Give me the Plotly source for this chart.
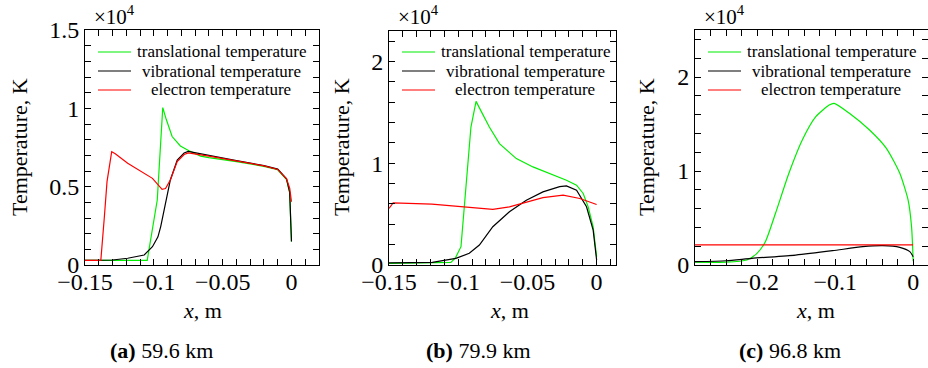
import plotly.graph_objects as go

W, H = 928, 368

# ---- data: temperature profiles along the stagnation line (K) ----
# (a) 59.6 km
xa_tr = [-0.15, -0.1048, -0.0975, -0.0935, -0.091, -0.0867, -0.0807, -0.0735, -0.066,
         -0.06, -0.04, -0.02, -0.01, -0.0036, -0.0013, 0.0]
Ta_tr = [300, 300, 4150, 10050, 9300, 8200, 7600, 7250, 6950,
         6850, 6600, 6300, 6080, 5450, 4600, 1500]
xa_vib = [-0.15, -0.13, -0.119, -0.107, -0.101, -0.097, -0.095, -0.0915, -0.088, -0.083,
          -0.078, -0.075, -0.06, -0.04, -0.02, -0.01, -0.0036, -0.0013, 0.0]
Ta_vib = [300, 320, 430, 640, 1170, 1800, 2450, 3940, 5430, 6700,
          7150, 7250, 6980, 6660, 6340, 6120, 5500, 4650, 1500]
xa_el = [-0.15, -0.1385, -0.136, -0.134, -0.1306, -0.128, -0.119, -0.1096, -0.101, -0.094,
         -0.0915, -0.088, -0.083, -0.078, -0.075, -0.06, -0.04, -0.02, -0.01, -0.0036,
         -0.0013, 0.0]
Ta_el = [300, 300, 3000, 5320, 7230, 7100, 6490, 5960, 5530, 4830,
         4880, 5430, 6600, 7050, 7150, 6950, 6640, 6330, 6100, 5500,
         4900, 4040]

# (b) 79.9 km
xb_tr = [-0.15, -0.12, -0.1053, -0.102, -0.098, -0.0908, -0.0871, -0.083, -0.0775, -0.0702,
         -0.058, -0.046, -0.0339, -0.0218, -0.0145, -0.0097, -0.0061, -0.0025, 0.0]
Tb_tr = [150, 200, 260, 700, 1800, 13560, 16080, 15000, 13560, 11930,
         10460, 9640, 8990, 8330, 7840, 7030, 5720, 3760, 810]
xb_vib = [-0.15, -0.1187, -0.1017, -0.092, -0.0847, -0.075, -0.063, -0.0508, -0.0388,
          -0.0267, -0.0218, -0.0145, -0.0073, -0.0025, 0.0]
Tb_vib = [200, 260, 650, 1150, 1960, 3760, 5230, 6370, 7190,
          7700, 7780, 7350, 5720, 3430, 490]
xb_el = [-0.15, -0.147, -0.119, -0.0944, -0.075, -0.063, -0.0508, -0.0388, -0.0242, -0.0121, 0.0]
Tb_el = [5560, 6110, 5980, 5720, 5460, 5720, 6210, 6630, 6860, 6540, 5950]

# (c) 96.8 km
xc_tr = [-0.28, -0.24, -0.2135, -0.2005, -0.1897, -0.1767, -0.1595, -0.1423, -0.125, -0.1078,
         -0.1013, -0.0819, -0.056, -0.0344, -0.0172, -0.0065, -0.0021, 0.0]
Tc_tr = [300, 300, 530, 1240, 2480, 5500, 9760, 13300, 15780, 17020,
         17200, 16140, 14360, 12410, 9760, 6910, 4070, 400]
xc_vib = [-0.28, -0.24, -0.207, -0.151, -0.1035, -0.0647, -0.0388, -0.0172, -0.0043, 0.0]
Tc_vib = [350, 450, 710, 1060, 1520, 1950, 2060, 1880, 1420, 880]
xc_el = [-0.28, 0.0]
Tc_el = [2150, 2150]

captions = ["59.6 km", "79.9 km", "96.8 km"]
letters = ["a", "b", "c"]
series_names = ["translational temperature", "vibrational temperature", "electron temperature"]
colors = ["#00ee00", "#000000", "#ff0000"]

# ---- panel geometry (pixels) ----
panels = [
    dict(x0=85, x1=319, y0=30, y1=265, xr=[-0.15, 0.02], xstep=0.01,
         xlab=[-0.15, -0.1, -0.05, 0.0], yr=[0, 15000], ystep=1000, ylab=[0, 5000, 10000, 15000],
         data=[(xa_tr, Ta_tr), (xa_vib, Ta_vib), (xa_el, Ta_el)], shape="linear",
         ytitle_x=20, xtitle_x=202, cap_x=161),
    dict(x0=389, x1=616, y0=31, y1=265, xr=[-0.15, 0.014], xstep=0.01,
         xlab=[-0.15, -0.1, -0.05, 0.0], yr=[0, 23000], ystep=2000, ylab=[0, 10000, 20000],
         data=[(xb_tr, Tb_tr), (xb_vib, Tb_vib), (xb_el, Tb_el)], shape="linear",
         ytitle_x=342, xtitle_x=510, cap_x=478),
    dict(x0=695, x1=928, y0=30, y1=265, xr=[-0.28, 0.019], xstep=0.02,
         xlab=[-0.2, -0.1, 0.0], yr=[0, 25000], ystep=2000, ylab=[0, 10000, 20000],
         data=[(xc_tr, Tc_tr), (xc_vib, Tc_vib), (xc_el, Tc_el)], shape="spline",
         ytitle_x=647, xtitle_x=815, cap_x=790),
]

FONT = "Liberation Serif, Times New Roman, serif"


def fx(px):
    return px / W


def fy(py):
    return 1 - py / H


def fmt_x(v):
    s = ("%g" % abs(v))
    return ("\u2212" + s) if v < 0 else s


def fmt_y(v):
    return "%g" % (v / 1e4)


def note(text, px, py, size, **kw):
    d = dict(text=text, x=fx(px), y=fy(py), xref="paper", yref="paper",
             xanchor="center", yanchor="middle", showarrow=False,
             font=dict(family=FONT, size=size, color="black"))
    d.update(kw)
    return d


fig = go.Figure()
annotations = []
shapes = []

for i, p in enumerate(panels):
    k = "" if i == 0 else str(i + 1)
    xa, ya = "x" + k, "y" + k
    for (xs, ts), name, col in zip(p["data"], series_names, colors):
        fig.add_trace(go.Scatter(x=xs, y=ts, mode="lines", name=name, showlegend=False,
                                 line=dict(color=col, width=1.2, shape=p["shape"],
                                           smoothing=0.6),
                                 xaxis=xa, yaxis=ya))

    # tick positions
    n = int(round((p["xr"][1] - p["xr"][0]) / p["xstep"]))
    xt = [round(p["xr"][0] + j * p["xstep"], 4) for j in range(n + 1)]
    xt = [v for v in xt if v <= p["xr"][1] + 1e-9]
    xtt = [fmt_x(v) if any(abs(v - l) < 1e-9 for l in p["xlab"]) else "" for v in xt]
    yt = list(range(p["yr"][0], p["yr"][1] + 1, p["ystep"]))
    ytt = [fmt_y(v) if v in p["ylab"] else "" for v in yt]

    common = dict(showline=True, linecolor="black", linewidth=1, mirror="ticks",
                  ticks="inside", ticklen=6, tickcolor="black", tickwidth=1,
                  showgrid=False, zeroline=False, automargin=False,
                  tickfont=dict(family=FONT, size=24, color="black"))
    fig.layout["xaxis" + k] = dict(domain=[fx(p["x0"]), fx(p["x1"])], range=p["xr"],
                                  anchor=ya, tickmode="array", tickvals=xt, ticktext=xtt,
                                  ticklabelstandoff=-5, **common)
    fig.layout["yaxis" + k] = dict(domain=[fy(p["y1"]), fy(p["y0"])], range=p["yr"],
                                  anchor=xa, tickmode="array", tickvals=yt, ticktext=ytt,
                                  **common)

    # axis titles, scale factor and caption
    annotations.append(note("Temperature, K", p["ytitle_x"], 147, 22, textangle=-90))
    annotations.append(note("\u00d710<sup>4</sup>", p["x0"] + 7, 15, 21, xanchor="left"))
    annotations.append(note("<i>x</i>, m", p["xtitle_x"], 310, 22))
    annotations.append(note("<b>(%s)</b> %s" % (letters[i], captions[i]), p["cap_x"], 350, 22))

    # in-plot key
    for r, (name, col) in enumerate(zip(series_names, colors)):
        yrow = 52 + r * 19
        shapes.append(dict(type="line", xref="paper", yref="paper",
                           x0=fx(p["x0"] + 13), x1=fx(p["x0"] + 46), y0=fy(yrow), y1=fy(yrow),
                           line=dict(color=col, width=1.2)))
        annotations.append(note(name, p["x0"] + 136, yrow, 17))

fig.update_layout(template="none", width=W, height=H,
                  margin=dict(l=0, r=0, t=0, b=0, pad=0, autoexpand=False),
                  paper_bgcolor="white", plot_bgcolor="white",
                  annotations=annotations, shapes=shapes, showlegend=False)

fig.write_html("out.html")
